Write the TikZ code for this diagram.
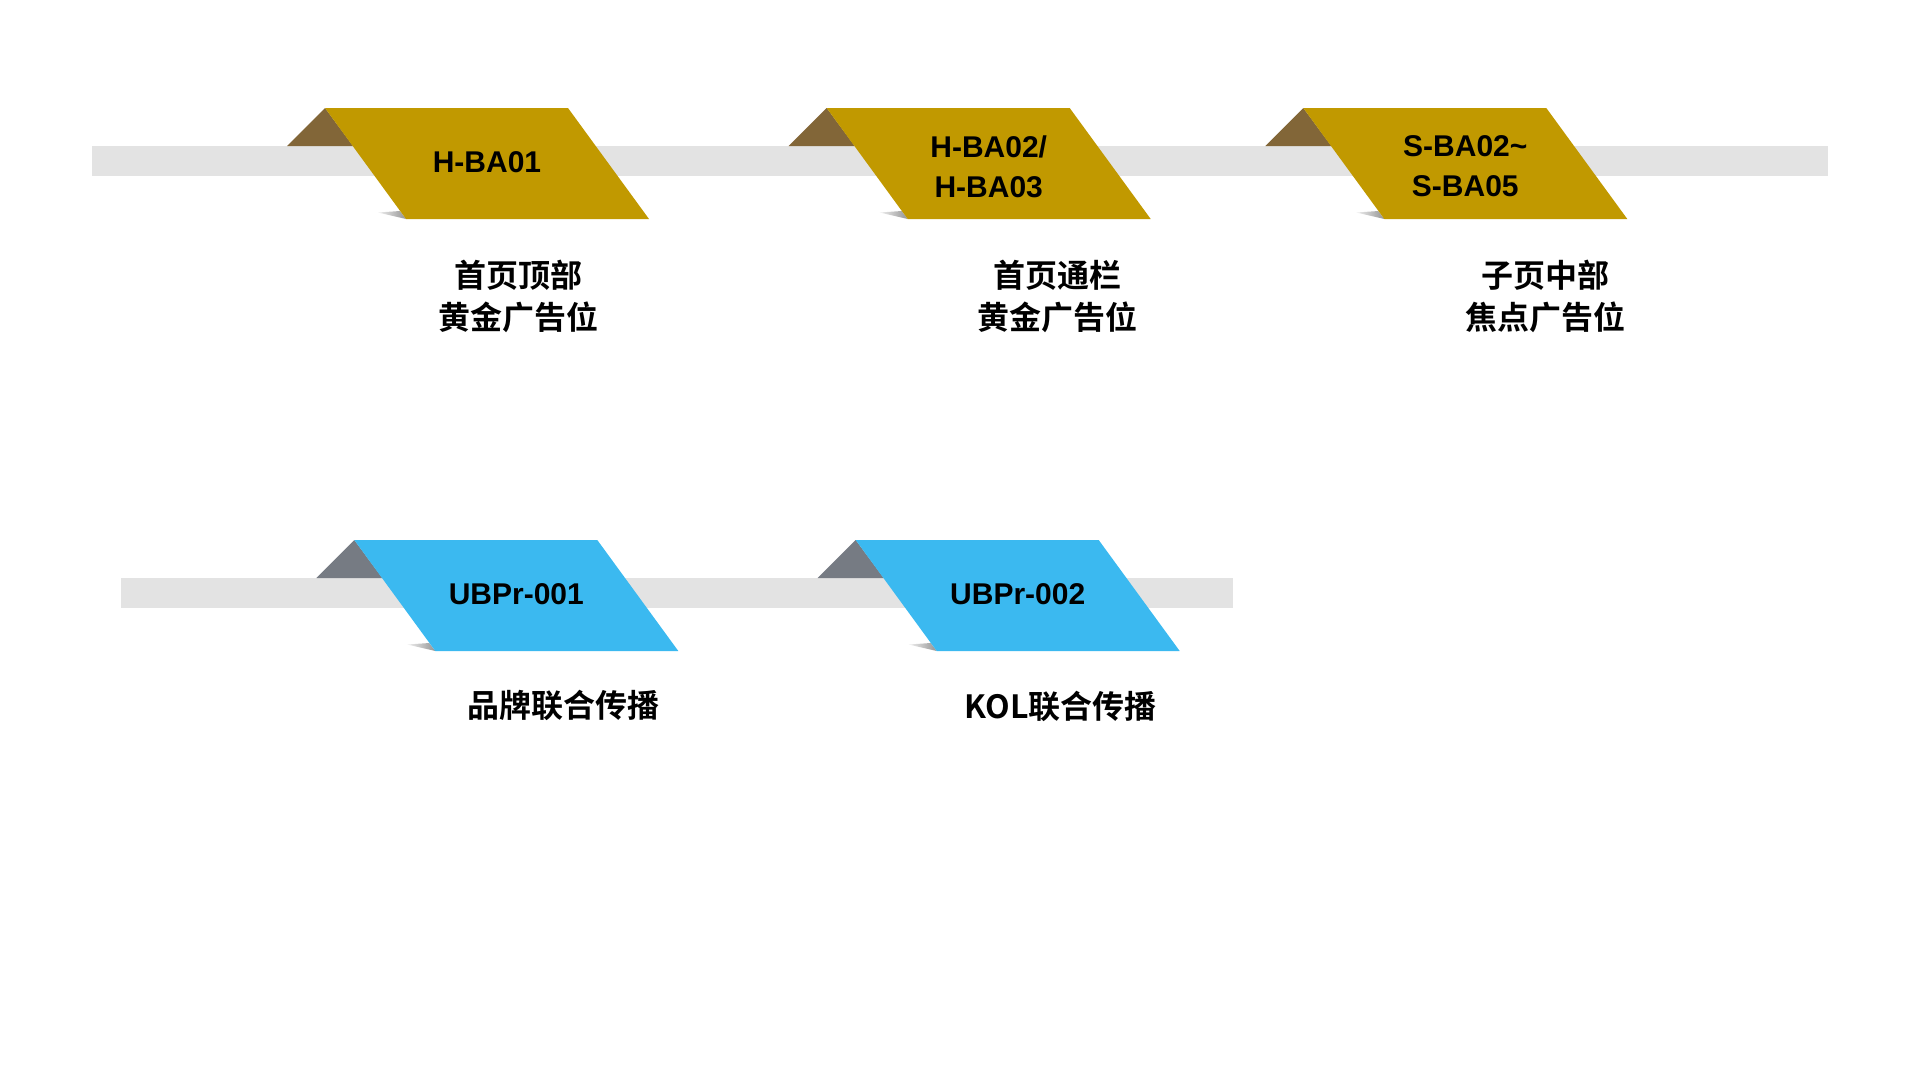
\documentclass[tikz,border=0pt]{standalone}
\usepackage{fontspec}
\usepackage{xcolor}
\newfontfamily\codefont{Liberation Sans}
\newfontfamily\cjkfont{Noto Sans CJK SC}[BoldFont={Noto Sans CJK SC Bold}]
\definecolor{bargray}{RGB}{227,227,227}
\definecolor{goldtag}{RGB}{193,153,0}
\definecolor{goldfold}{RGB}{130,102,56}
\definecolor{bluetag}{RGB}{59,185,240}
\definecolor{bluefold}{RGB}{118,123,131}
\tikzset{
  align=center,
  bar/.style={fill=bargray},
  tagshadow/.style={left color=black!6, right color=black!42},
  code/.style={inner sep=0pt, font=\fontsize{30}{40}\selectfont\codefont\bfseries},
  caption/.style={inner sep=0pt, font=\fontsize{32}{42}\selectfont\cjkfont\bfseries}
}
% #1 x, #2 y of the upper left corner, #3 tag colour, #4 fold colour
\newcommand{\tagshape}[4]{%
  \fill[#4] (#1-38,#2+38) -- (#1,#2) -- (#1+28,#2+38) -- cycle;
  \shade[tagshadow] (#1+53,#2+104.5) -- (#1+75,#2+103) -- (#1+81,#2+111) -- cycle;
  \fill[#3] (#1,#2) -- (#1+243,#2) -- (#1+324,#2+111) -- (#1+81,#2+111) -- cycle;
}

\begin{document}
\begin{tikzpicture}[x=1pt, y=-1pt]
    \useasboundingbox (0,0) rectangle (1920,1080);

    \fill[bar] (92,146) rectangle (1827.7,176);
    \fill[bar] (121,578) rectangle (1233,608);

    \tagshape{325}{108}{goldtag}{goldfold}
    \tagshape{826.7}{108}{goldtag}{goldfold}
    \tagshape{1303.3}{108}{goldtag}{goldfold}
    \tagshape{354.3}{540}{bluetag}{bluefold}
    \tagshape{855.7}{540}{bluetag}{bluefold}

    \node[code] (hba01) at (487,162) {H-BA01};
    \node[code] (hba02) at (988.7,166.5) {H-BA02/\\H-BA03};
    \node[code] (sba02) at (1465.3,166.5) {S-BA02\char`\~\\S-BA05};
    \node[code] (ubpr001) at (516.3,594) {UBPr-001};
    \node[code] (ubpr002) at (1017.7,594) {UBPr-002};

    \node[caption] (lab_hba01) at (518,296) {首页顶部\\黄金广告位};
    \node[caption] (lab_hba02) at (1057,296) {首页通栏\\黄金广告位};
    \node[caption] (lab_sba02) at (1545,296) {子页中部\\焦点广告位};
    \node[caption] (lab_ubpr001) at (563.5,705) {品牌联合传播};
    \node[caption] (lab_ubpr002) at (1060.5,706) {KOL联合传播};
  \end{tikzpicture}
\end{document}
